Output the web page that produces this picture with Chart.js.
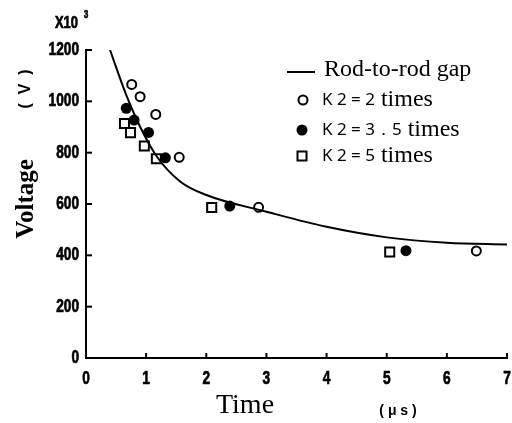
<!DOCTYPE html>
<html>
<head>
<meta charset="utf-8">
<script src="https://cdn.jsdelivr.net/npm/chart.js@4.4.1/dist/chart.umd.min.js"></script>
<style>
  body { margin: 0; background: #fff; }
  canvas { display: block; }
</style>
</head>
<body>
<canvas id="chart" width="512" height="423"></canvas>
<script>
// Rod-to-rod gap curve (time in µs, voltage in kV)
const curveT = [0.40, 0.50, 0.68, 0.90, 1.18, 1.57, 2.0, 3.0, 4.0, 5.0, 6.0, 7.0];
const curveV = [1200, 1133, 1018, 901, 784, 687, 635, 570, 511, 470, 449, 442];

// K2 = 2 times (open circles)
const k2T = [0.76, 0.90, 1.16, 1.55, 2.87, 6.49];
const k2V = [1066, 1018, 949, 782, 587, 417];

// K2 = 3.5 times (filled circles)
const k35T = [0.67, 0.80, 1.04, 1.32, 2.39, 5.32];
const k35V = [973, 927, 879, 780, 592, 418];

// K2 = 5 times (squares)
const k5T = [0.64, 0.74, 0.97, 1.17, 2.09, 5.05];
const k5V = [914, 878, 826, 776, 586, 413];

const xTicks = [0, 1, 2, 3, 4, 5, 6, 7];
const yTicks = [0, 200, 400, 600, 800, 1000, 1200];

const sans = "'Liberation Sans', Arial, sans-serif";
const serif = "'Liberation Serif', 'DejaVu Serif', serif";

function pts(xs, ys) {
    return xs.map((x, i) => ({ x: x, y: ys[i] }));
}

// condensed heavy text, like the printed tick numbers
function narrowText(ctx, text, x, y, size, align) {
    ctx.save();
    ctx.font = 'bold ' + size + 'px ' + sans;
    ctx.textAlign = align;
    ctx.textBaseline = 'middle';
    ctx.translate(x, y);
    ctx.scale(0.76, 1);
    ctx.lineWidth = 0.7;
    ctx.fillText(text, 0, 0);
    ctx.strokeText(text, 0, 0);
    ctx.restore();
}

// ticks pointing inward, tick labels, axis texts and the legend
const extras = {
    id: 'extras',
    afterDraw(chart) {
        const ctx = chart.ctx;
        const xs = chart.scales.x;
        const ys = chart.scales.y;
        const area = chart.chartArea;
        ctx.save();
        ctx.strokeStyle = '#000';
        ctx.fillStyle = '#000';
        yTicks.forEach(v => {
            const py = ys.getPixelForValue(v);
            ctx.lineWidth = 2;
            ctx.beginPath();
            ctx.moveTo(area.left, py);
            ctx.lineTo(area.left + 6, py);
            ctx.stroke();
            narrowText(ctx, String(v), area.left - 7, py, 18, 'right');
        });
        xTicks.forEach(v => {
            const px = xs.getPixelForValue(v);
            ctx.lineWidth = 2;
            ctx.beginPath();
            ctx.moveTo(px, area.bottom);
            ctx.lineTo(px, area.bottom - 5);
            ctx.stroke();
            narrowText(ctx, String(v), px, area.bottom + 21, 18, 'center');
        });

        // x10^3
        narrowText(ctx, 'X10', 55, 23, 17, 'left');
        narrowText(ctx, '3', 84, 15, 10, 'left');

        // (V) and Voltage, rotated
        ctx.save();
        ctx.translate(26, 89);
        ctx.rotate(-Math.PI / 2);
        ctx.textAlign = 'center';
        ctx.textBaseline = 'middle';
        ctx.font = 'bold 16px ' + sans;
        ctx.fillText('(  V  )', 0, 0);
        ctx.restore();

        ctx.save();
        ctx.translate(27, 199);
        ctx.rotate(-Math.PI / 2);
        ctx.textAlign = 'center';
        ctx.textBaseline = 'middle';
        ctx.font = 'bold 25px ' + serif;
        ctx.fillText('Voltage', 0, 0);
        ctx.restore();

        // Time and unit
        ctx.textAlign = 'center';
        ctx.textBaseline = 'middle';
        ctx.font = '28px ' + serif;
        ctx.fillText('Time', 245, 406);
        ctx.font = 'bold 14px ' + sans;
        ctx.fillText('( μ s )', 398, 411);

        // legend
        ctx.lineWidth = 2;
        ctx.beginPath();
        ctx.moveTo(287, 72);
        ctx.lineTo(315, 72);
        ctx.stroke();
        ctx.textAlign = 'left';
        ctx.font = '24px ' + serif;
        ctx.fillText('Rod-to-rod gap', 324, 70);

        const rows = [
            { y: 100, label: 'K 2 = 2', style: 'open' },
            { y: 130, label: 'K 2 = 3．5', style: 'filled' },
            { y: 156, label: 'K 2 = 5', style: 'square' }
        ];
        rows.forEach(r => {
            ctx.lineWidth = 2;
            if (r.style === 'open') {
                ctx.beginPath();
                ctx.arc(303, r.y, 4.5, 0, Math.PI * 2);
                ctx.stroke();
            } else if (r.style === 'filled') {
                ctx.beginPath();
                ctx.arc(302, r.y, 5.5, 0, Math.PI * 2);
                ctx.fill();
            } else {
                ctx.strokeRect(297.5, r.y - 4.5, 9, 9);
            }
            ctx.font = '17px "Noto Sans", sans-serif';
            ctx.fillText(r.label, 322, r.y);
            const w = ctx.measureText(r.label).width;
            ctx.font = '24px ' + serif;
            ctx.fillText(' times', 322 + w, r.y);
        });
        ctx.restore();
    }
};

const ctx = document.getElementById('chart').getContext('2d');
const chart = new Chart(ctx, {
    type: 'scatter',
    data: {
        datasets: [
            {
                label: 'Rod-to-rod gap',
                data: pts(curveT, curveV),
                showLine: true,
                borderColor: '#000',
                borderWidth: 2,
                pointRadius: 0,
                cubicInterpolationMode: 'monotone',
                fill: false
            },
            {
                label: 'K2 = 2 times',
                data: pts(k2T, k2V),
                pointStyle: 'circle',
                pointRadius: 4.5,
                borderWidth: 2,
                borderColor: '#000',
                backgroundColor: '#fff'
            },
            {
                label: 'K2 = 3.5 times',
                data: pts(k35T, k35V),
                pointStyle: 'circle',
                pointRadius: 5.5,
                borderWidth: 0,
                borderColor: '#000',
                backgroundColor: '#000'
            },
            {
                label: 'K2 = 5 times',
                data: pts(k5T, k5V),
                pointStyle: 'rect',
                pointRadius: 6.4,
                borderWidth: 2,
                borderColor: '#000',
                backgroundColor: '#fff'
            }
        ]
    },
    options: {
        responsive: false,
        animation: false,
        layout: {
            autoPadding: false,
            padding: { left: 0, top: 50, right: 5, bottom: 0 }
        },
        plugins: {
            legend: { display: false },
            tooltip: { enabled: false }
        },
        scales: {
            x: {
                type: 'linear',
                min: 0,
                max: 7,
                afterFit: s => { s.height = 65; s.paddingLeft = 0; s.paddingRight = 0; },
                border: { display: true, color: '#000', width: 2 },
                grid: { drawOnChartArea: false, drawTicks: false, color: 'rgba(0,0,0,0)' },
                ticks: { display: false, stepSize: 1 }
            },
            y: {
                type: 'linear',
                min: 0,
                max: 1200,
                afterFit: s => { s.width = 86; s.paddingTop = 0; s.paddingBottom = 0; },
                border: { display: true, color: '#000', width: 2 },
                grid: { drawOnChartArea: false, drawTicks: false, color: 'rgba(0,0,0,0)' },
                ticks: { display: false, stepSize: 200 }
            }
        }
    },
    plugins: [extras]
});
</script>
</body>
</html>
